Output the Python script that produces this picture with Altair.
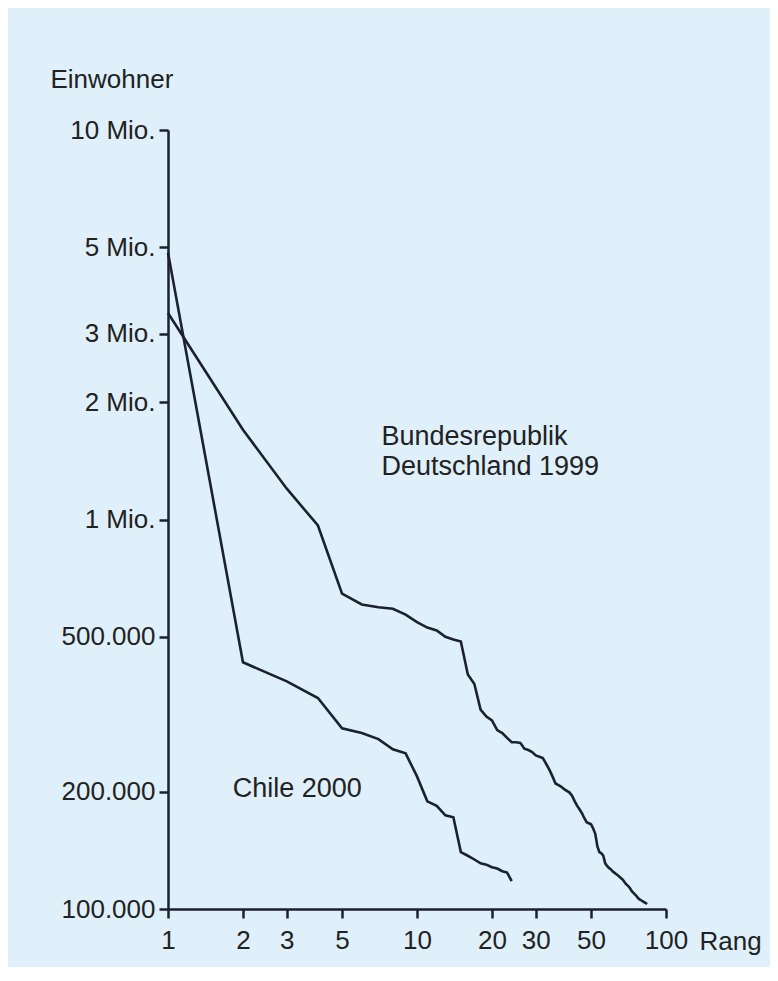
import altair as alt
import pandas as pd

# Rang-Größe-Verteilung der Städte
de_rank = list(range(1, 85))
de_pop = [3390000, 1700000, 1200000, 965000, 645000, 605000, 595000, 590000, 570000, 545000,
          528000, 519000, 500000, 492000, 486000, 400000, 378000, 325000, 312000, 305000,
          288000, 283000, 275000, 268000, 268000, 267000, 258000, 256000, 253000, 248000,
          246000, 244000, 236000, 228000, 219000, 210000, 208000, 206000, 203000, 201000,
          199000, 195000, 189000, 184000, 180000, 176000, 171000, 167000, 166000, 165000,
          161000, 156000, 145000, 140000, 139000, 137000, 131000, 129000, 127500, 126500,
          125000, 124000, 123000, 122000, 121000, 120000, 119000, 117500, 116000, 115000,
          114000, 112500, 111000, 110000, 109000, 108000, 107000, 106000, 105500, 105000,
          104500, 104000, 103500, 103000]

cl_rank = list(range(1, 25))
cl_pop = [4840000, 430000, 384000, 348000, 291000, 283000, 273000, 257000, 251000, 219000,
          189000, 184000, 174000, 172000, 140000, 137000, 134000, 131000, 130000, 128000,
          127000, 125000, 124000, 118000]

y_ticks = [100000, 200000, 500000, 1000000, 2000000, 3000000, 5000000, 10000000]
y_labels = ["100.000", "200.000", "500.000", "1 Mio.", "2 Mio.", "3 Mio.", "5 Mio.", "10 Mio."]
x_ticks = [1, 2, 3, 5, 10, 20, 30, 50, 100]

label_text = ["Bundesrepublik", "Deutschland 1999", "Chile 2000"]
label_rank = [7.2, 7.2, 1.82]
label_pop = [1630000, 1360000, 203000]

FONT = "Liberation Sans"
INK = "#1c2130"
TXT = "#222222"
BG = "#dff0fb"

df = pd.concat([
    pd.DataFrame({"Rang": de_rank, "Einwohner": de_pop, "Land": "Deutschland"}),
    pd.DataFrame({"Rang": cl_rank, "Einwohner": cl_pop, "Land": "Chile"}),
])
labels = pd.DataFrame({"text": label_text, "Rang": label_rank, "Einwohner": label_pop})

label_map = "{" + ",".join(f"'{v}':'{t}'" for v, t in zip(y_ticks, y_labels)) + "}"

xscale = alt.Scale(type="log", domain=[1, 100], nice=False)
yscale = alt.Scale(type="log", domain=[100000, 10000000], nice=False)

lines = alt.Chart(df).mark_line(color=INK, strokeWidth=2.6, strokeJoin="miter").encode(
    x=alt.X("Rang:Q", scale=xscale,
            axis=alt.Axis(values=x_ticks, title="Rang", titleX=531, titleY=32,
                          titleAlign="left", titleBaseline="middle", labelFlush=False,
                          labelPadding=9, labelExpr="datum.value")),
    y=alt.Y("Einwohner:Q", scale=yscale,
            axis=alt.Axis(values=y_ticks, title="Einwohner", titleAngle=0, titleX=-118,
                          titleY=-51, titleAlign="left", titleBaseline="middle",
                          labelPadding=4,
                          labelExpr=label_map + "[datum.value]")),
    detail="Land:N",
    order="Rang:Q",
)

texts = alt.Chart(labels).mark_text(
    align="left", baseline="middle", font=FONT, fontSize=27, color=TXT
).encode(
    x=alt.X("Rang:Q", scale=xscale),
    y=alt.Y("Einwohner:Q", scale=yscale),
    text="text:N",
)

chart = alt.layer(lines, texts).properties(
    width=498, height=779,
    background=BG,
    padding={"left": 160, "top": 122, "right": 104, "bottom": 58},
    autosize=alt.AutoSizeParams(type="none"),
).configure_view(strokeWidth=0).configure_axis(
    grid=False,
    domainColor=INK, domainWidth=2.5,
    tickColor=INK, tickWidth=2.5, tickSize=9,
    labelFont=FONT, labelFontSize=26, labelColor=TXT,
    titleFont=FONT, titleFontSize=26, titleColor=TXT, titleFontWeight="normal",
)

chart.save("out.html", embed_options={"renderer": "svg", "actions": False})
